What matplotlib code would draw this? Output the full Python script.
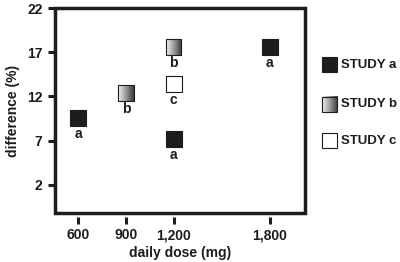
import numpy as np
import matplotlib
matplotlib.use("Agg")
import matplotlib.pyplot as plt
from matplotlib.patches import Rectangle

plt.rcParams['font.family'] = ['Liberation Sans Narrow', 'Liberation Sans', 'DejaVu Sans']
plt.rcParams['font.weight'] = 'bold'

# data
dose_a = [600, 1200, 1800]
diff_a = [9.6, 7.2, 17.6]
dose_b = [900, 1200]
diff_b = [12.4, 17.6]
dose_c = [1200]
diff_c = [13.4]
studies = ["STUDY a", "STUDY b", "STUDY c"]
letters = ["a", "b", "c"]
xticks = [600, 900, 1200, 1800]
xticklabels = ["600", "900", "1,200", "1,800"]
yticks = [2, 7, 12, 17, 22]

dark = "#1e1c1d"
grad = matplotlib.colors.LinearSegmentedColormap.from_list("g", ["#f2f2f2", "#9a9a9a", "#3a3a3a"])
msize = 11  # points
fs = 10

fig = plt.figure(figsize=(4, 2.62), dpi=100)
ax = fig.add_axes([0.1375, 0.187, 0.625, 0.782])
ax.set_xlim(456, 2022)
ax.set_ylim(-1.2, 22)
for s in ax.spines.values():
    s.set_visible(False)
ax.spines['bottom'].set_position(('outward', 3))
ax.add_patch(Rectangle((0, 0), 1, 1, transform=ax.transAxes, fill=False,
                       lw=2.5, ec=dark, clip_on=False, zorder=5))

ax.set_xticks(xticks)
ax.set_xticklabels(xticklabels)
ax.set_yticks(yticks)
ax.tick_params(axis='both', direction='out', length=5, width=2.2, color=dark,
               labelsize=fs, labelcolor=dark)
ax.tick_params(axis='y', pad=4)
ax.tick_params(axis='x', pad=3)
ax.set_xlabel("daily dose (mg)", fontsize=fs, fontweight='bold', color=dark, labelpad=3)
ax.set_ylabel("difference (%)", fontsize=fs, fontweight='bold', color=dark, labelpad=5)

ax.scatter(dose_a, diff_a, marker='s', s=msize**2, c=dark, edgecolors=dark, lw=0.8, zorder=3)
ax.scatter(dose_c, diff_c, marker='s', s=msize**2, c='white', edgecolors=dark, lw=0.8, zorder=3)

# gradient squares for study b
half = msize / 2 * fig.dpi / 72
gimg = np.linspace(0, 1, 50).reshape(1, -1)
inv = ax.transData.inverted()
for x, y in zip(dose_b, diff_b):
    cx, cy = ax.transData.transform((x, y))
    x0, y0 = inv.transform((cx - half, cy - half))
    x1, y1 = inv.transform((cx + half, cy + half))
    ax.imshow(gimg, cmap=grad, extent=(x0, x1, y0, y1), aspect='auto', zorder=3)
    ax.add_patch(Rectangle((x0, y0), x1 - x0, y1 - y0, fill=False, ec=dark, lw=0.8, zorder=4))
ax.set_xlim(456, 2022)
ax.set_ylim(-1.2, 22)

for xs, ys, lt in [(dose_a, diff_a, "a"), (dose_b, diff_b, "b"), (dose_c, diff_c, "c")]:
    for x, y in zip(xs, ys):
        ax.annotate(lt, (x, y), xytext=(0, -11.5), textcoords='offset points',
                    ha='center', va='center', fontsize=fs, fontweight='bold', color=dark)

# legend
lax = fig.add_axes([0.78, 0.3, 0.22, 0.5])
lax.set_xlim(0, 1)
lax.set_ylim(0, 1)
lax.axis('off')
ly = [0.905, 0.605, 0.325]
lx = 0.195
lh = half * 2 / (lax.bbox.height)
lw = half * 2 / (lax.bbox.width)
for i, (name, yy) in enumerate(zip(studies, ly)):
    if i == 0:
        lax.add_patch(Rectangle((lx - lw / 2, yy - lh / 2), lw, lh, fc=dark, ec=dark, lw=0.8))
    elif i == 1:
        lax.imshow(gimg, cmap=grad, extent=(lx - lw / 2, lx + lw / 2, yy - lh / 2, yy + lh / 2),
                   aspect='auto')
        lax.add_patch(Rectangle((lx - lw / 2, yy - lh / 2), lw, lh, fill=False, ec=dark, lw=0.8))
    else:
        lax.add_patch(Rectangle((lx - lw / 2, yy - lh / 2), lw, lh, fc='white', ec=dark, lw=0.8))
    lax.text(lx + lw / 2 + 0.05, yy, name, ha='left', va='center', fontsize=fs - 0.5,
             fontweight='bold', color=dark)
lax.set_xlim(0, 1)
lax.set_ylim(0, 1)

fig.savefig("out.png", dpi=100)
